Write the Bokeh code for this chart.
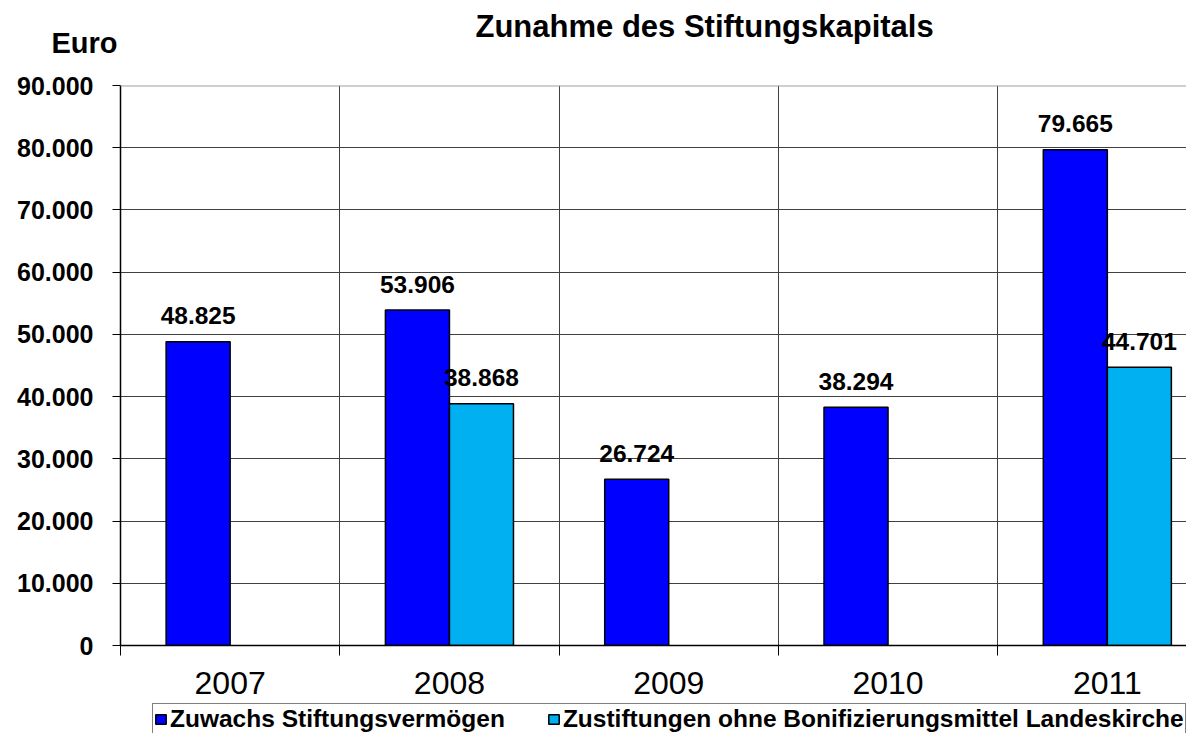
import math
from bokeh.plotting import figure
from bokeh.layouts import column
from bokeh.models import (Range1d, FixedTicker, Legend, LegendItem, Span,
                          ColumnDataSource, Label)
from bokeh.core.properties import value
from bokeh.embed import file_html
from bokeh.resources import INLINE

# ---- data ----
years = ["2007", "2008", "2009", "2010", "2011"]
zuwachs = [48825, 53906, 26724, 38294, 79665]
zustiftungen = [float("nan"), 38868, float("nan"), float("nan"), 44701]
y_ticks = [0, 10000, 20000, 30000, 40000, 50000, 60000, 70000, 80000, 90000]
y_tick_labels = ["0", "10.000", "20.000", "30.000", "40.000", "50.000",
                 "60.000", "70.000", "80.000", "90.000"]
series_names = ["Zuwachs Stiftungsvermögen",
                "Zustiftungen ohne Bonifizierungsmittel Landeskirche"]
title_text = "Zunahme des Stiftungskapitals"
y_label = "Euro"

FONT = "Liberation Sans"
BLUE = "#0000FF"
LIGHT = "#00B0F0"
GRID = "#404040"
LEFT = 120
FW = 1066

centers = [i + 0.5 for i in range(len(years))]
bounds = [float(i) for i in range(len(years) + 1)]
bw = 0.292
off = bw / 2


def de(v):
    return f"{int(v):,}".replace(",", ".")


def strip(height, yaxis=False):
    f = figure(frame_width=FW, frame_height=height, x_range=Range1d(0, 1),
               y_range=Range1d(0, height), min_border=0, min_border_left=LEFT,
               min_border_right=0, min_border_top=0, min_border_bottom=0,
               x_axis_type=None, y_axis_type="linear" if yaxis else None,
               output_backend="svg", toolbar_location=None, tools="")
    f.outline_line_color = None
    f.background_fill_color = "white"
    f.border_fill_color = "white"
    f.grid.visible = False
    return f


# ---- header: title and axis title ----
head = strip(65, yaxis=True)
head.add_layout(Label(x=355, y=39, x_units="screen", y_units="screen",
                      text=title_text, text_font=FONT, text_font_style="bold",
                      text_font_size="31px", text_align="left",
                      text_baseline="alphabetic", text_color="black"))
euro_pos = 22.5
head.yaxis.ticker = FixedTicker(ticks=[euro_pos])
head.yaxis.major_label_overrides = {euro_pos: y_label}
head.yaxis.axis_line_color = None
head.yaxis.major_tick_line_color = None
head.yaxis.minor_tick_line_color = None
head.yaxis.major_tick_out = 0
head.yaxis.major_tick_in = 0
head.yaxis.major_label_standoff = 3
head.yaxis.major_label_text_font = FONT
head.yaxis.major_label_text_font_style = "bold"
head.yaxis.major_label_text_font_size = "29px"
head.yaxis.major_label_text_color = "black"

# ---- main chart ----
p = figure(frame_width=FW, frame_height=560,
           min_border_left=LEFT, min_border_right=0,
           min_border_top=20, min_border_bottom=55,
           x_range=Range1d(0, 4.861), y_range=Range1d(0, 90000),
           output_backend="svg", toolbar_location=None, tools="")
p.title = None
p.background_fill_color = "white"
p.border_fill_color = "white"
p.outline_line_color = None

src1 = ColumnDataSource(dict(x=[c - off for c in centers], top=zuwachs))
src2 = ColumnDataSource(dict(x=[c + off for c in centers], top=zustiftungen))
bar_kw = dict(width=bw, line_color="black", line_width=1.5)
p.vbar(x="x", top="top", source=src1, fill_color=BLUE, **bar_kw)
p.vbar(x="x", top="top", source=src2, fill_color=LIGHT, **bar_kw)

lx, ly, lt = [], [], []
for c, v in zip(centers, zuwachs):
    if not math.isnan(v):
        lx.append(c - off); ly.append(v); lt.append(de(v))
for c, v in zip(centers, zustiftungen):
    if not math.isnan(v):
        lx.append(c + off); ly.append(v); lt.append(de(v))
p.text(x="x", y="y", text="t", source=ColumnDataSource(dict(x=lx, y=ly, t=lt)),
       text_font=value(FONT), text_font_style="bold", text_font_size="24.5px",
       text_align="center", text_baseline="alphabetic", y_offset=-26,
       text_color="black")

p.yaxis.ticker = FixedTicker(ticks=y_ticks)
p.yaxis.major_label_overrides = dict(zip(y_ticks, y_tick_labels))
p.yaxis.major_label_text_font = FONT
p.yaxis.major_label_text_font_style = "bold"
p.yaxis.major_label_text_font_size = "25px"
p.yaxis.major_label_text_color = "black"
p.yaxis.major_tick_out = 8
p.yaxis.major_tick_in = 0
p.yaxis.minor_tick_line_color = None
p.yaxis.major_label_standoff = 19
p.yaxis.axis_line_color = "black"
p.yaxis.axis_line_width = 1.5
p.yaxis.major_tick_line_color = "black"

p.xaxis.ticker = FixedTicker(ticks=centers, minor_ticks=bounds)
p.xaxis.major_label_overrides = dict(zip(centers, years))
p.xaxis.major_label_text_font = FONT
p.xaxis.major_label_text_font_size = "32px"
p.xaxis.major_label_text_color = "black"
p.xaxis.major_tick_line_color = None
p.xaxis.major_tick_out = 0
p.xaxis.major_tick_in = 0
p.xaxis.minor_tick_out = 10
p.xaxis.minor_tick_in = 0
p.xaxis.minor_tick_line_color = "black"
p.xaxis.major_label_standoff = 16
p.xaxis.axis_line_color = "black"
p.xaxis.axis_line_width = 1.5

p.xgrid.grid_line_color = None
p.xgrid.minor_grid_line_color = GRID
p.xgrid.minor_grid_line_width = 1
p.ygrid.ticker = FixedTicker(ticks=y_ticks[:-1])
p.ygrid.grid_line_color = GRID
p.ygrid.grid_line_width = 1
p.add_layout(Span(location=y_ticks[-1], dimension="width",
                  line_color="#a0a0a0", line_width=2))

# ---- legend strip (hidden twin renderers supply the legend swatches) ----
leg = strip(33)
g1 = leg.vbar(x="x", top="top", source=src1, fill_color=BLUE, **bar_kw)
g2 = leg.vbar(x="x", top="top", source=src2, fill_color=LIGHT, **bar_kw)
g1.visible = False
g2.visible = False
legend = Legend(items=[LegendItem(label=series_names[0], renderers=[g1]),
                       LegendItem(label=series_names[1], renderers=[g2])],
                location=(32, -2), orientation="horizontal",
                padding=1, spacing=42, label_standoff=3, margin=0,
                glyph_width=13, glyph_height=12, label_height=20,
                label_text_font=FONT, label_text_font_style="bold",
                label_text_font_size="24.5px", label_text_color="black",
                border_line_color="black", border_line_width=1,
                background_fill_color="white", background_fill_alpha=1.0,
                inactive_fill_alpha=0.0)
leg.add_layout(legend)

layout = column(head, p, leg, spacing=0)
open("out.html", "w").write(file_html(layout, INLINE))
